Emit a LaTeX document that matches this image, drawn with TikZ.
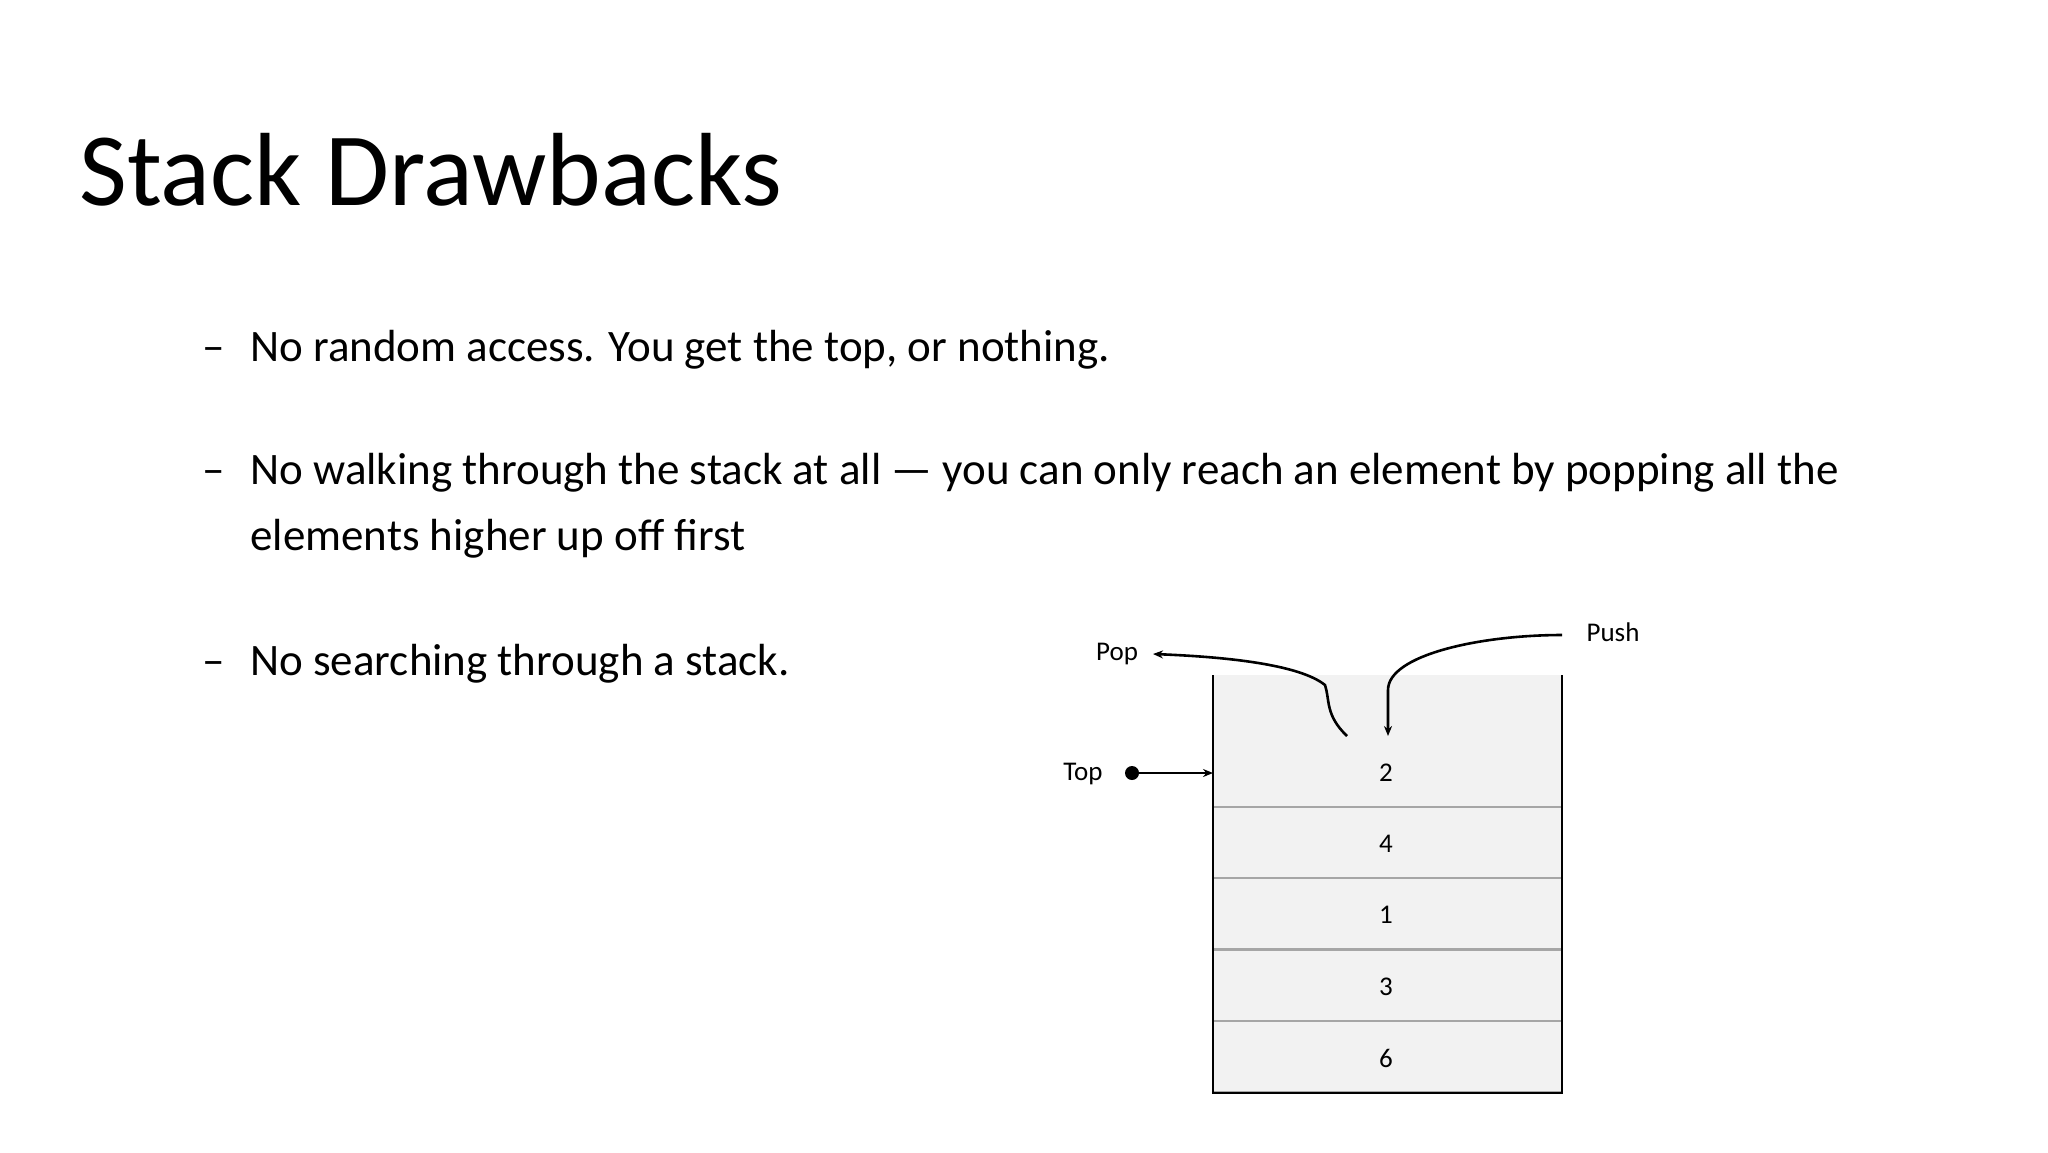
\documentclass[tikz,border=0pt]{standalone}
\usepackage{fontspec}
\setmainfont{Carlito}
\usetikzlibrary{arrows.meta}
\begin{document}
\begin{tikzpicture}[x=0.5pt,y=-0.5pt,
  bullet/.style={anchor=base west,font=\fontsize{22.5}{27}\selectfont,inner sep=0},
  small/.style={font=\fontsize{13.5}{16}\selectfont,inner sep=0},
  cell/.style={fill=gray!10,draw=gray!70,line width=0.8pt},
  conn/.style={line width=1.3pt,-{Stealth[length=5pt,width=4pt]}}]
\useasboundingbox[fill=white] (0,0) rectangle (2048,1152);
\node[anchor=base west,inner sep=0,font=\fontsize{52}{60}\selectfont] (title) at (79,205) {Stack Drawbacks};
\node[bullet] (d1) at (202,361) {–};
\node[bullet] (b1) at (250,361) {No random access. You get the top, or nothing.};
\node[bullet] (d2) at (202,484) {–};
\node[bullet] (b2) at (250,484) {No walking through the stack at all — you can only reach an element by popping all the};
\node[bullet] (b2b) at (250,550) {elements higher up off first};
\node[bullet] (d3) at (202,675) {–};
\node[bullet] (b3) at (250,675) {No searching through a stack.};
% stack
\fill[gray!10] (1213,675) rectangle (1562,807);
\foreach \y/\n in {807/a,878/b,950/c,1021/d}{\draw[cell] (1213,\y) rectangle (1562,\y+71);}
\draw[line width=1.3pt] (1213,675) -- (1213,1093) -- (1562,1093) -- (1562,675);
\node[small] (n2) at (1386,773) {2};
\node[small] (n4) at (1386,844) {4};
\node[small] (n1) at (1386,915) {1};
\node[small] (n3) at (1386,987) {3};
\node[small] (n6) at (1386,1058) {6};
\node[small] (top) at (1083,774) {Top};
\node[small] (pop) at (1117,654) {Pop};
\node[small] (push) at (1613,632) {Push};
\coordinate (dot) at (1132,773);
\coordinate (boxl) at (1213,773);
\fill (dot) circle (7);
\draw[conn] (dot) -- (boxl);
\coordinate (popstart) at (1347,736);
\coordinate (popend) at (1153,654);
\draw[conn] (popstart) .. controls (1325,715) and (1330,700) .. (1325,685)
   .. controls (1300,665) and (1230,657) .. (popend);
\coordinate (pushstart) at (1562,635);
\coordinate (pushend) at (1388,736);
\draw[conn] (pushstart) .. controls (1480,635) and (1388,655) .. (1388,690) -- (pushend);
\end{tikzpicture}
\end{document}
